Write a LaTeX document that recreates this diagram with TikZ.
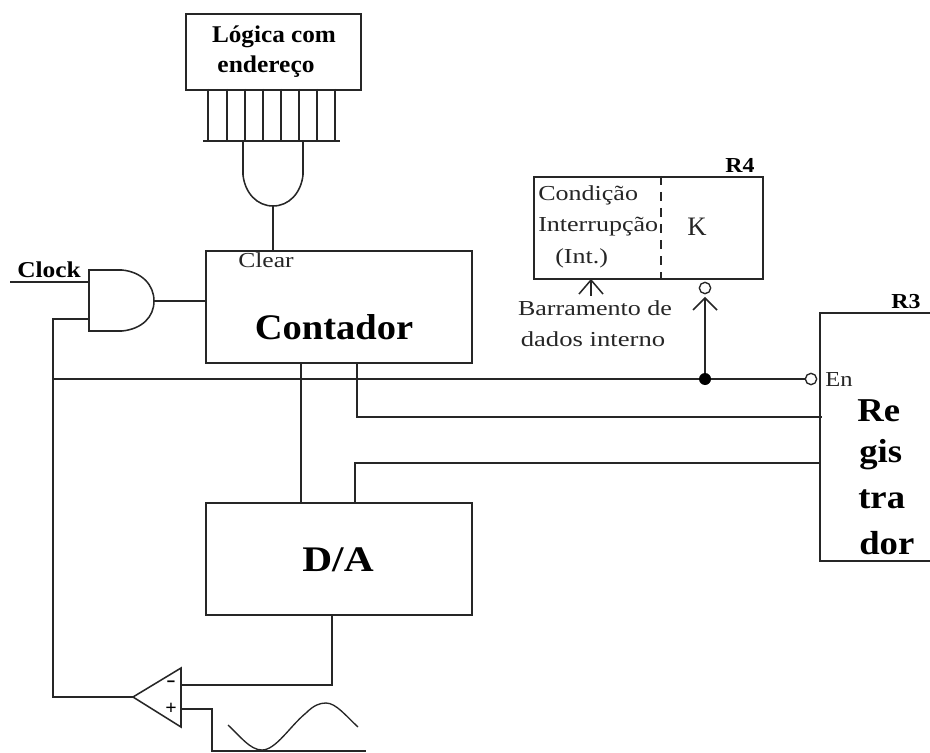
\documentclass[tikz,border=0pt]{standalone}
\usepackage{graphicx}
\usepackage{fontspec}
\setmainfont{Liberation Serif}
\newcommand{\fsz}[1]{\fontsize{#1pt}{#1pt}\selectfont}
\newcommand{\sx}[2]{\scalebox{#1}[1]{#2}}
\tikzset{
  wire/.style={draw=black!85,line width=1.15pt,line join=miter},
  boxed/.style={draw=black!85,line width=1.15pt,fill=none,inner sep=0pt,anchor=north west},
  lbl/.style={inner sep=0pt,text=black!85,font=\fsz{16}},
  bsmall/.style={inner sep=0pt,text=black,font=\fsz{18}\bfseries},
  bbig/.style={inner sep=0pt,text=black,font=\fsz{27}\bfseries},
  breg/.style={inner sep=0pt,text=black,font=\fsz{25}\bfseries,anchor=west},
  bubble/.style={circle,draw=black!85,line width=1pt,fill=white,inner sep=0pt,minimum size=8.5pt},
  jdot/.style={circle,fill=black,inner sep=0pt,minimum size=9pt},
}
\begin{document}
\begin{tikzpicture}[x=0.75pt,y=-0.75pt]
\useasboundingbox[fill=white] (0,0) rectangle (930,752);
% boxes
\node[boxed,minimum width=131.25pt,minimum height=57pt] (logic) at (185,13) {};
\node[boxed,minimum width=199.5pt,minimum height=84pt] (cont) at (205,250) {};
\node[boxed,minimum width=199.5pt,minimum height=84pt] (da) at (205,502) {};
\node[boxed,minimum width=171.75pt,minimum height=76.5pt] (rfour) at (533,176) {};
% texts
\node[bsmall] (t1) at (274,37) {\sx{1.05}{Lógica com}};
\node[bsmall] (t2) at (266,67) {\sx{1.06}{endereço}};
\node[lbl] (tclear) at (266,260) {\sx{1.2}{Clear}};
\node[bbig] (tcont) at (334,327) {\sx{1.07}{Contador}};
\node[bbig] (tda) at (338,560) {\sx{1.15}{D/A}};
\node[bsmall,font=\fsz{17}\bfseries] (tclock) at (49,270) {\sx{1.12}{Clock}};
\node[bsmall,font=\fsz{16}\bfseries] (tr4) at (740,165) {\sx{1.12}{R4}};
\node[bsmall,font=\fsz{16}\bfseries] (tr3) at (906,302) {\sx{1.12}{R3}};
\node[lbl,anchor=west] (c1) at (538,195) {\sx{1.22}{Condição}};
\node[lbl,anchor=west] (c2) at (538,227) {\sx{1.22}{Interrupção}};
\node[lbl,anchor=west] (c3) at (555,258) {\sx{1.22}{(Int.)}};
\node[lbl,font=\fsz{20}] (tk) at (697,227) {K};
\node[lbl] (b1) at (595,308) {\sx{1.22}{Barramento de}};
\node[lbl] (b2) at (593,339) {\sx{1.25}{dados interno}};
\node[lbl,anchor=west] (ten) at (825,380) {\sx{1.15}{En}};
\node[breg] (re) at (857,411) {\sx{1.1}{Re}};
\node[breg] (gi) at (859,455) {\sx{1.1}{gis}};
\node[breg] (tr) at (858,499) {\sx{1.1}{tra}};
\node[breg] (do) at (859,543) {\sx{1.1}{dor}};
% R4 dashed divider
\draw[wire,dash pattern=on 7pt off 5pt] (661,176) -- (661,278);
% R3 open box
\coordinate (rtl) at (930,313);
\coordinate (rtc) at (820,313);
\coordinate (rbc) at (820,561);
\coordinate (rbr) at (930,561);
\draw[wire] (rtl) -- (rtc) -- (rbc) -- (rbr);
% comb
\foreach \i/\x in {1/208,2/227,3/245,4/263,5/281,6/299,7/317,8/335}{
  \coordinate (ct\i) at (\x,89);
  \coordinate (cb\i) at (\x,141);
  \draw[wire] (ct\i) -- (cb\i);
}
\coordinate (barl) at (203,141);
\coordinate (barr) at (340,141);
\draw[wire] (barl) -- (barr);
% top AND
\coordinate (ga) at (243,141);
\coordinate (gb) at (303,141);
\coordinate (gout) at (273,206);
\draw[wire] (ga) -- (243,175) .. controls (245,193) and (257,206) .. (gout) .. controls (289,206) and (301,193) .. (303,175) -- (gb);
\draw[wire] (gout) -- (273,250);
% clock AND
\coordinate (atl) at (89,270);
\coordinate (abl) at (89,331);
\coordinate (aout) at (154,301);
\draw[wire] (atl) -- (122,270) .. controls (142,272) and (154,285) .. (aout) .. controls (154,317) and (142,329) .. (122,331) -- (abl) -- cycle;
\coordinate (ckin) at (10,282);
\coordinate (ckg) at (89,282);
\draw[wire] (ckin) -- (ckg);
\coordinate (contw) at (cont.west |- aout);
\draw[wire] (aout) -- (contw);
% feedback line
\coordinate (fbg) at (89,319);
\coordinate (fbc) at (53,319);
\coordinate (fbj) at (53,379);
\coordinate (fbb) at (53,697);
% comparator
\coordinate (cmptip) at (133,697);
\coordinate (cmpt) at (181,668);
\coordinate (cmpb) at (181,727);
\draw[wire] (cmptip) -- (cmpt) -- (cmpb) -- cycle;
\node[inner sep=0pt,font=\fsz{15}\bfseries] (minus) at (171,684) {\sx{1.4}{-}};
\node[inner sep=0pt,font=\fsz{15}\bfseries] (plus) at (171,709) {+};
\draw[wire] (fbg) -- (fbc) -- (fbb) -- (cmptip);
% enable line
\node[bubble] (ben) at (811,379) {};
\node[jdot] (jd) at (705,379) {};
\draw[wire] (fbj) -- (jd) -- (ben);
\node[bubble] (bk) at (705,288) {};
\coordinate (kt) at (705,298);
\draw[wire] (jd) -- (kt);
\draw[wire] (693,310) -- (kt) -- (717,310);
% small arrow
\coordinate (st) at (591,280);
\coordinate (sb) at (591,296);
\draw[wire] (sb) -- (st);
\draw[wire] (579,294) -- (st) -- (603,294);
% contador - registrador
\coordinate (c0) at (357,362);
\coordinate (c1a) at (357,417);
\coordinate (c1b) at (822,417);
\draw[wire] (c0) -- (c1a) -- (c1b);
\coordinate (d0) at (355,502);
\coordinate (d1) at (355,463);
\coordinate (d2) at (820,463);
\draw[wire] (d0) -- (d1) -- (d2);
\coordinate (m0) at (301,362);
\coordinate (m1) at (301,502);
\draw[wire] (m0) -- (m1);
% D/A to comparator
\coordinate (e0) at (332,614);
\coordinate (e1) at (332,685);
\coordinate (e2) at (181,685);
\draw[wire] (e0) -- (e1) -- (e2);
\coordinate (f0) at (181,709);
\coordinate (f1) at (212,709);
\coordinate (f2) at (212,751);
\coordinate (f3) at (366,751);
\draw[wire] (f0) -- (f1) -- (f2) -- (f3);
% sine
\draw[wire,line width=1pt] (228,725) .. controls (240,736) and (250,750) .. (262,750) .. controls (276,750) and (290,726) .. (306,713) .. controls (314,705) and (320,703) .. (326,703) .. controls (336,703) and (346,716) .. (358,727);
\end{tikzpicture}
\end{document}
